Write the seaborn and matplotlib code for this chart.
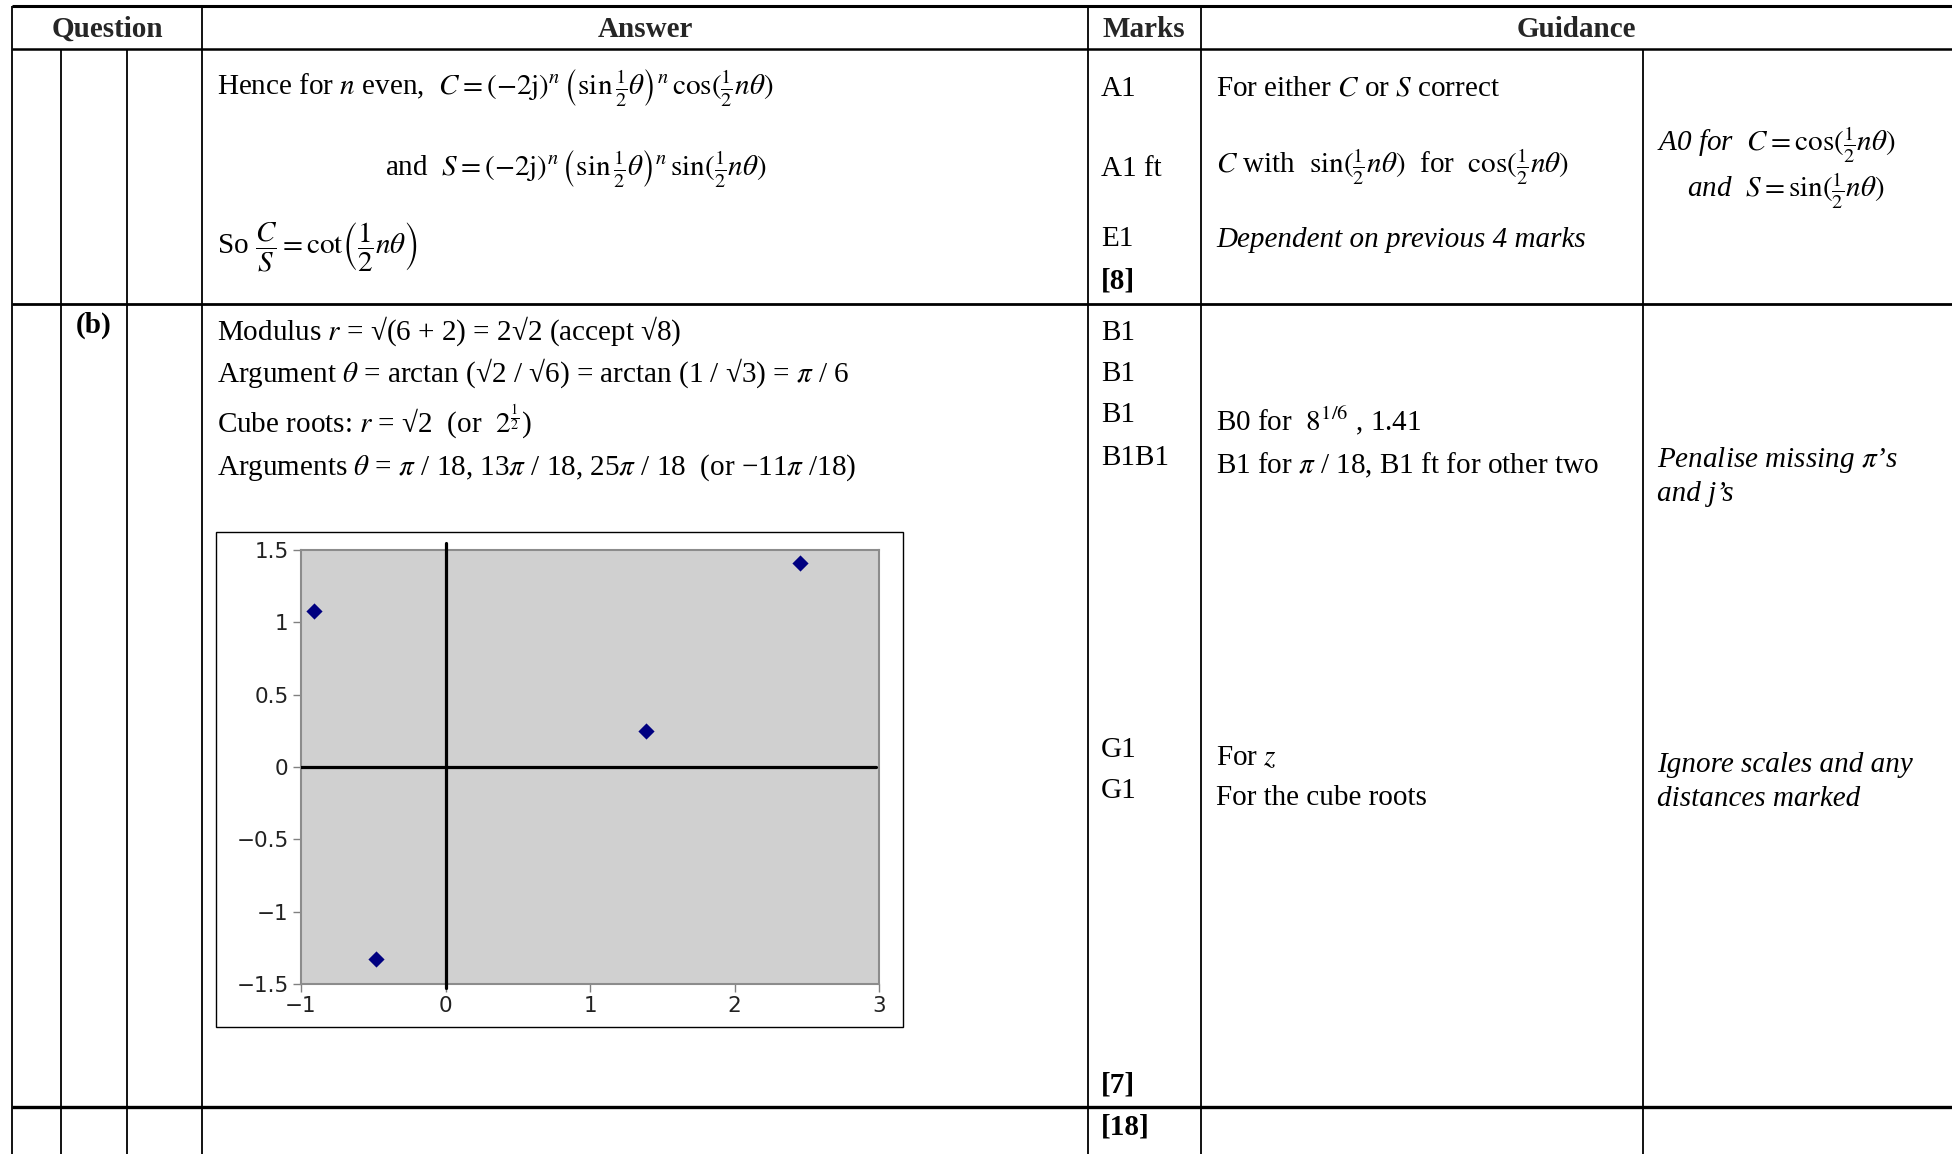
import matplotlib
matplotlib.use("Agg")
import matplotlib.pyplot as plt
import seaborn as sns
import pandas as pd
from matplotlib.ticker import FuncFormatter

# points: z and its three cube roots
point_x = [2.45, 1.39, -0.91, -0.48]
point_y = [1.41, 0.25, 1.08, -1.33]
x_ticks = [-1, 0, 1, 2, 3]
y_ticks = [-1.5, -1, -0.5, 0, 0.5, 1, 1.5]

headers = ["Question", "Answer", "Marks", "Guidance"]
marks_a = ["A1", "A1 ft", "E1"]
marks_b = ["B1", "B1", "B1", "B1B1", "G1", "G1"]
totals = ["[8]", "[7]", "[18]"]

sns.set_style("white")
plt.rcParams['font.family'] = ['Liberation Serif', 'DejaVu Serif']
plt.rcParams['mathtext.fontset'] = 'stix'

W, H = 1952, 1154
FS = 21
fig = plt.figure(figsize=(W / 100, H / 100), dpi=100)
bg = fig.add_axes([0, 0, 1, 1])
bg.set_xlim(0, W)
bg.set_ylim(H, 0)
bg.axis('off')


def hline(y, x0, x1, lw=1.7):
    bg.plot([x0, x1], [y, y], color='black', lw=lw, solid_capstyle='butt')


def vline(x, y0, y1, lw=1.3):
    bg.plot([x, x], [y0, y1], color='black', lw=lw, solid_capstyle='butt')


def put(x, y, s, **kw):
    bg.text(x, y, s, fontsize=FS, va='baseline', ha='left', color='black', **kw)


# table grid
hline(6, 12, W, 2.2)
hline(49, 12, W, 1.8)
hline(304, 12, W, 2.0)
hline(1107, 12, W, 2.4)
for x in [12, 202, 1088, 1201]:
    vline(x, 6, H)
for x in [61, 127, 1643]:
    vline(x, 49, H)

# header row
for txt, cx in zip(headers, [107, 645, 1144, 1576]):
    bg.text(cx, 37, txt, fontsize=FS, fontweight='bold', ha='center', va='baseline')

# part (a) ending
put(217, 94, r"Hence for $n$ even,  $C = (-2\mathrm{j})^n\,\left(\sin\frac{1}{2}\theta\right)^n\,\cos(\frac{1}{2}n\theta)$")
put(385, 175, r"and  $S = (-2\mathrm{j})^n\,\left(\sin\frac{1}{2}\theta\right)^n\,\sin(\frac{1}{2}n\theta)$")
put(217, 254, r"So $\dfrac{C}{S} = \mathrm{cot}\left(\dfrac{1}{2}n\theta\right)$")

for txt, y in zip(marks_a, [96, 176, 246]):
    put(1101, y, txt)
put(1101, 289, totals[0], fontweight='bold')

put(1216, 96, r"For either $C$ or $S$ correct")
put(1216, 173, r"$C$ with  $\sin(\frac{1}{2}n\theta)$  for  $\cos(\frac{1}{2}n\theta)$")
put(1216, 247, "Dependent on previous 4 marks", style='italic')
put(1657, 151, r"A0 for  $C = \cos(\frac{1}{2}n\theta)$", style='italic')
put(1687, 197, r"and  $S = \sin(\frac{1}{2}n\theta)$", style='italic')

# part (b)
put(76, 333, "(b)", fontweight='bold')
put(217, 340, r"Modulus $r$ = √(6 + 2) = 2√2 (accept √8)")
put(217, 382, r"Argument $\theta$ = arctan (√2 / √6) = arctan (1 / √3) = $\pi$ / 6")
put(217, 432, r"Cube roots: $r$ = √2  (or  $2^{\frac{1}{2}}$)")
put(217, 475, r"Arguments $\theta$ = $\pi$ / 18, 13$\pi$ / 18, 25$\pi$ / 18  (or −11$\pi$ /18)")

for txt, y in zip(marks_b, [340, 381, 422, 465, 757, 798]):
    put(1101, y, txt)
put(1101, 1092, totals[1], fontweight='bold')
put(1101, 1134, totals[2], fontweight='bold')

put(1216, 430, r"B0 for  $8^{1/6}$ , 1.41")
put(1216, 473, r"B1 for $\pi$ / 18, B1 ft for other two")
put(1216, 765, r"For $z$")
put(1216, 805, "For the cube roots")
put(1657, 467, r"Penalise missing $\pi$’s", style='italic')
put(1657, 501, "and j’s", style='italic')
put(1657, 772, "Ignore scales and any", style='italic')
put(1657, 806, "distances marked", style='italic')

# chart frame
bg.add_patch(plt.Rectangle((216, 532), 687, 495, fill=False, ec='black', lw=1.0))

# Argand diagram
ax = fig.add_axes([301 / W, 1 - 984 / H, 578 / W, 434 / H])
ax.set_facecolor('#d0d0d0')
df = pd.DataFrame({'x': point_x, 'y': point_y})
sns.scatterplot(data=df, x='x', y='y', marker='D', color='#000080', s=68,
                edgecolor='#000080', linewidth=0, ax=ax, zorder=5)
ax.set_xlim(-1, 3)
ax.set_ylim(-1.5, 1.5)
ax.axhline(0, xmax=0.995, color='black', lw=2.3, zorder=3)
ax.plot([0, 0], [-1.53, 1.55], color='black', lw=2.3, clip_on=False, zorder=3)
ax.set_xticks(x_ticks)
ax.set_yticks(y_ticks)
fmt = FuncFormatter(lambda v, p: f"{v:g}".replace('-', '\u2212'))
ax.xaxis.set_major_formatter(fmt)
ax.yaxis.set_major_formatter(fmt)
ax.tick_params(bottom=True, left=True, direction='out', length=6, width=1,
               color='#808080', labelsize=15.5, pad=3, labelcolor='#222222')
for lab in ax.get_xticklabels() + ax.get_yticklabels():
    lab.set_fontfamily('DejaVu Sans')
ax.set_xlabel('')
ax.set_ylabel('')
for sp in ax.spines.values():
    sp.set_color('#8c8c8c')
    sp.set_linewidth(1.5)

fig.savefig("out.png", dpi=100)
